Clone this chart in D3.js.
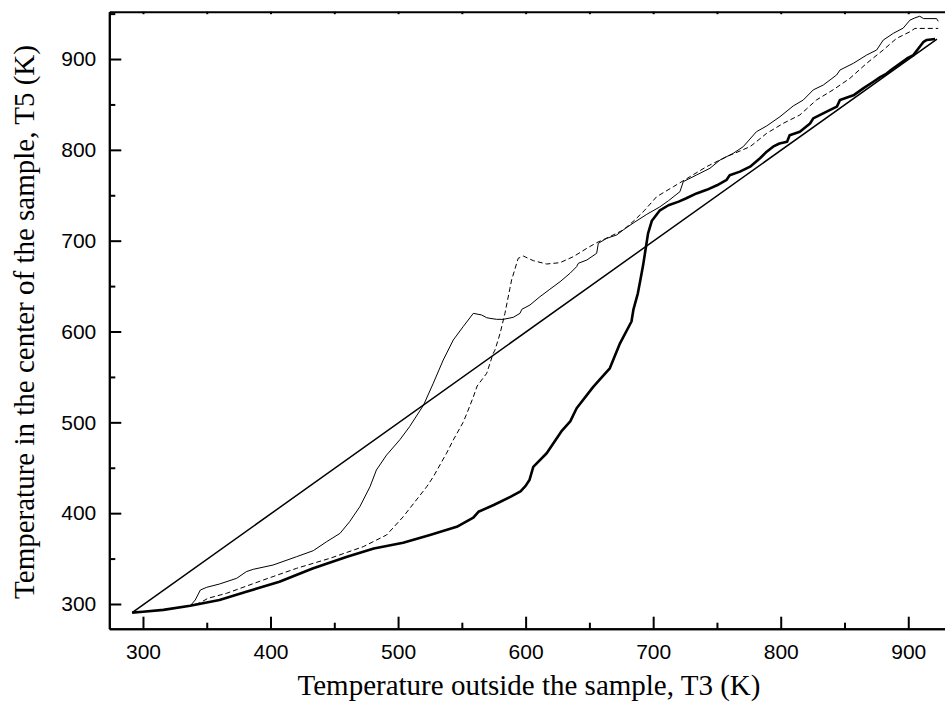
<!DOCTYPE html>
<html>
<head>
<meta charset="utf-8">
<script src="https://cdn.jsdelivr.net/npm/d3@7/dist/d3.min.js"></script>
<style>
  html, body { margin: 0; padding: 0; background: #fff; }
  svg { display: block; }
</style>
</head>
<body>
<svg id="chart" width="945" height="720"></svg>
<script>
// ---------------- data ----------------
const xMajorTicks = [300, 400, 500, 600, 700, 800, 900];
const xMinorTicks = [350, 450, 550, 650, 750, 850];
const yMajorTicks = [300, 400, 500, 600, 700, 800, 900];
const yMinorTicks = [350, 450, 550, 650, 750, 850, 950];

const xTitle = "Temperature outside the sample, T3 (K)";
const yTitle = "Temperature in the center of the sample, T5 (K)";

// straight reference line T5 = T3
const diagT3 = [291.5, 922.5];
const diagT5 = [290.5, 922];

// thick solid curve
const thickT3 = [291.5, 300, 316, 337, 360, 381, 407, 433, 460, 481, 504, 525, 546, 559, 563, 575, 588, 596, 600, 603, 606, 616.5, 628, 635, 640, 653, 660, 666, 674, 683, 684.5, 688, 690, 692, 694, 696, 699, 705, 712, 720, 726, 734, 742, 750, 757.6, 760, 768, 776, 784, 789, 794, 799, 805, 807, 815, 823, 825.5, 836, 844, 846.5, 857, 865, 872.6, 878, 883, 888, 893.5, 899, 904, 909, 912, 914.5, 921];
const thickT5 = [290.5, 291.5, 293.5, 298, 304.5, 313.5, 324.5, 339, 352, 361, 367.5, 376, 385, 395, 401.5, 409, 418, 424, 430, 436.5, 451, 466, 490, 501, 515.5, 539, 550, 559.5, 587, 611, 624, 642, 657, 672, 690, 708, 722, 733, 739, 743, 746.7, 752, 756, 761, 767, 772, 776, 781.5, 791, 798, 803.5, 807, 809, 816, 820, 829, 834.7, 842, 847.5, 855, 860, 868, 875, 880, 884, 889.6, 895, 900.6, 904.3, 913.5, 919, 921, 922];

// thin solid curve
const thinT3 = [291.5, 300, 316, 337, 341, 345, 350, 360, 373.5, 381, 386.5, 402, 420.5, 433.5, 444, 454.5, 462, 470, 478, 483, 491, 501.5, 509, 520, 527.6, 535.4, 543.3, 551, 559, 565.5, 569.5, 572, 577.3, 582.5, 590.3, 595.6, 597, 603.4, 611.2, 619, 627, 634.8, 640, 641.3, 648, 655.7, 657, 663.6, 671.4, 676.5, 685, 695, 705, 712, 721, 723.6, 734, 744.5, 752.4, 762.8, 770.6, 781, 789, 799.4, 809.8, 817.7, 825.5, 833.4, 843.8, 846.5, 857, 867.4, 875.2, 880.4, 888.3, 896, 901.3, 905.2, 909, 912, 922.2, 923.5];
const thinT5 = [290.5, 291.5, 293.5, 298, 304.4, 315.4, 318.4, 322, 328.3, 335.6, 338.2, 342.9, 352.1, 358.7, 368.6, 377.8, 390.6, 407.1, 429.1, 447.5, 464, 481, 495.2, 519.1, 543, 568.6, 590.7, 605.3, 620, 618.2, 615.2, 614.5, 613.4, 613.4, 615.6, 620, 624.4, 629.2, 638.3, 646.5, 654.8, 664.1, 671.4, 675.1, 678.7, 686.1, 697.1, 702.6, 706.3, 711.8, 720, 729, 737, 744, 754, 765, 772.3, 779.7, 788.8, 796.2, 803.5, 820, 826.3, 836.5, 848.3, 854.9, 866, 871.4, 882.4, 887.9, 895.3, 904.4, 909.9, 920.9, 928.3, 934, 942.8, 945.3, 947.1, 944.5, 944.5, 941.5];

// dashed curve
const dashT3 = [291.5, 300, 316, 337, 345, 351, 365.6, 394.3, 420.5, 446.6, 472.7, 491, 504, 522.4, 527.6, 538, 543.3, 551, 554, 559, 562, 569.5, 574.6, 576, 580, 583.8, 587.7, 589, 594.2, 598.2, 606, 616.5, 627, 637.4, 648, 655.7, 666, 676.5, 685, 693, 702.7, 715.8, 728.9, 741.9, 757.6, 776, 789, 802, 815, 828, 841, 854.3, 867.4, 880.4, 890.9, 901.3, 905.2, 923.5];
const dashT5 = [290.5, 291.5, 293.5, 298, 301.5, 306.3, 311.8, 326.4, 339.3, 350.3, 363.1, 376, 396, 429, 440, 466, 480.6, 500, 510, 528, 540, 554, 576, 579.6, 598, 620, 647.6, 656.7, 680.6, 683.1, 678, 674.3, 675.8, 682.4, 691.6, 697.8, 704.4, 711.8, 722, 733, 748.4, 759.4, 770.5, 781.5, 792.5, 803.5, 818.2, 829.2, 838.4, 854.9, 866, 878.8, 895.3, 910, 922.8, 930, 933.7, 933.7];

// ---------------- layout ----------------
const svg = d3.select("#chart");
const L = 109.3, R = 945, T = 11.7, B = 628.7;

const x = d3.scaleLinear().domain([273.6, 928.8]).range([L, R]);
const y = d3.scaleLinear().domain([272.8, 952.1]).range([B, T]);

const zip = (a, b) => a.map((v, i) => [v, b[i]]);
const line = d3.line().x(d => x(d[0])).y(d => y(d[1]));

const plot = svg.append("g");

plot.append("path").datum(zip(diagT3, diagT5)).attr("d", line)
  .attr("fill", "none").attr("stroke", "#000").attr("stroke-width", 1.5);
plot.append("path").datum(zip(dashT3, dashT5)).attr("d", line)
  .attr("fill", "none").attr("stroke", "#000").attr("stroke-width", 1)
  .attr("stroke-dasharray", "5,3");
plot.append("path").datum(zip(thinT3, thinT5)).attr("d", line)
  .attr("fill", "none").attr("stroke", "#000").attr("stroke-width", 1);
plot.append("path").datum(zip(thickT3, thickT5)).attr("d", line)
  .attr("fill", "none").attr("stroke", "#000").attr("stroke-width", 2.6)
  .attr("stroke-linejoin", "round");

// ---------------- axes ----------------
function styleAxis(g) {
  g.selectAll("path.domain").attr("stroke", "#000").attr("stroke-width", 2);
  g.selectAll(".tick line").attr("stroke", "#000").attr("stroke-width", 2);
  g.selectAll("text").attr("font-family", "'Liberation Sans', Arial, sans-serif")
    .attr("font-size", 21).attr("fill", "#000");
}

// bottom
svg.append("g").attr("transform", `translate(0,${B})`)
  .call(d3.axisBottom(x).tickValues(xMinorTicks).tickSize(-6).tickSizeOuter(0).tickFormat(""))
  .call(styleAxis);
svg.append("g").attr("transform", `translate(0,${B})`)
  .call(d3.axisBottom(x).tickValues(xMajorTicks).tickSize(-12).tickSizeOuter(0).tickPadding(15).tickFormat(d3.format("d")))
  .call(styleAxis);

// left
svg.append("g").attr("transform", `translate(${L},0)`)
  .call(d3.axisLeft(y).tickValues(yMinorTicks).tickSize(-6).tickSizeOuter(0).tickFormat(""))
  .call(styleAxis);
svg.append("g").attr("transform", `translate(${L},0)`)
  .call(d3.axisLeft(y).tickValues(yMajorTicks).tickSize(-12).tickSizeOuter(0).tickPadding(13).tickFormat(d3.format("d")))
  .call(styleAxis);

// top (mirror, small ticks, no labels)
svg.append("g").attr("transform", `translate(0,${T})`)
  .call(d3.axisTop(x).tickValues(xMajorTicks.concat(xMinorTicks)).tickSize(-2.5).tickSizeOuter(0).tickFormat(""))
  .call(styleAxis);

// ---------------- titles ----------------
svg.append("text")
  .attr("x", 529).attr("y", 695)
  .attr("text-anchor", "middle")
  .attr("font-family", "'Liberation Serif', 'Times New Roman', serif")
  .attr("font-size", 29)
  .text(xTitle);

svg.append("text")
  .attr("transform", "translate(34,322) rotate(-90)")
  .attr("text-anchor", "middle")
  .attr("font-family", "'Liberation Serif', 'Times New Roman', serif")
  .attr("font-size", 29)
  .text(yTitle);
</script>
</body>
</html>
